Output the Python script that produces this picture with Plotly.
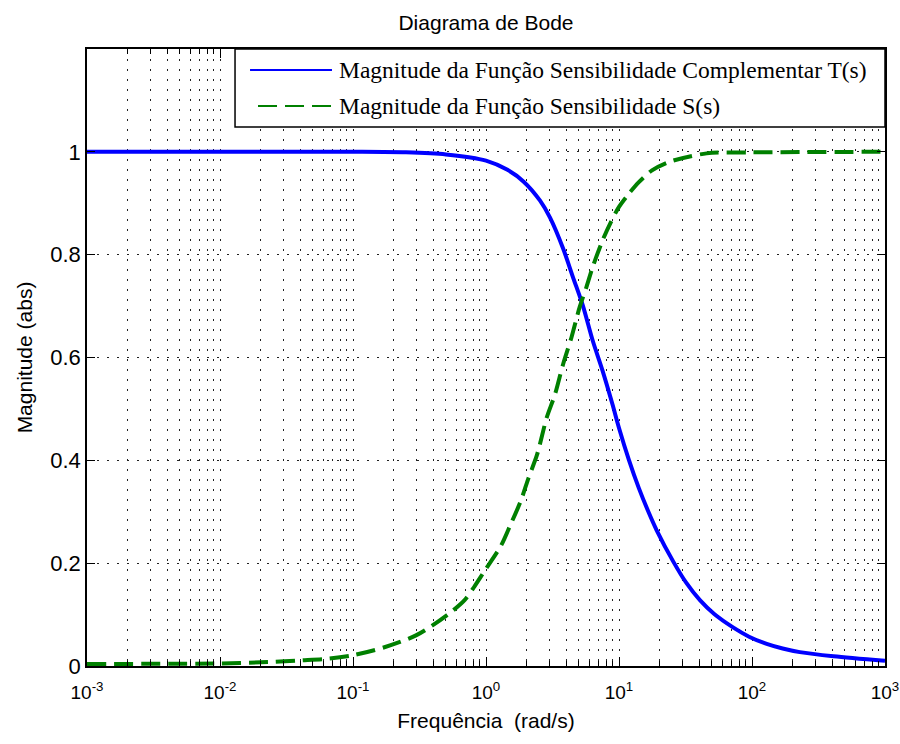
import plotly.graph_objects as go

# Frequency samples (rad/s) and magnitudes of the complementary sensitivity T(s)
freq_t = [0.001, 0.01, 0.1, 0.25, 0.5, 1.0, 1.45, 1.92, 2.55, 3.03, 3.80, 4.51, 5.35,
          6.34, 7.53, 8.93, 10.0, 11.9, 14.1, 16.7, 19.2, 25.6, 32, 40.6, 52, 72, 95,
          129, 170, 229, 410, 1000]
mag_t = [1.0, 1.0, 1.0, 0.999, 0.995, 0.983, 0.965, 0.942, 0.905, 0.872, 0.812, 0.756,
         0.701, 0.633, 0.574, 0.509, 0.463, 0.400, 0.346, 0.299, 0.264, 0.203, 0.162,
         0.128, 0.101, 0.075, 0.057, 0.043, 0.034, 0.027, 0.019, 0.010]

# Frequency samples (rad/s) and magnitudes of the sensitivity S(s)
freq_s = [0.001, 0.01, 0.025, 0.04, 0.063, 0.1, 0.17, 0.3, 0.51, 0.69, 0.82, 0.97, 1.29,
          1.53, 1.82, 2.09, 2.42, 2.86, 3.30, 3.80, 4.39, 5.06, 5.66, 6.34, 7.53, 8.67,
          10.0, 11.9, 14.1, 17.7, 24.2, 45.6, 100, 1000]
mag_s = [0.004, 0.005, 0.008, 0.011, 0.014, 0.021, 0.036, 0.060, 0.099, 0.128, 0.155,
         0.184, 0.233, 0.275, 0.320, 0.366, 0.411, 0.483, 0.528, 0.587, 0.639, 0.698,
         0.735, 0.776, 0.828, 0.863, 0.893, 0.919, 0.941, 0.964, 0.981, 0.997, 0.999, 1.0]

name_t = "Magnitude da Função Sensibilidade Complementar T(s)"
name_s = "Magnitude da Função Sensibilidade S(s)"

# Axis ticks
x_tickvals = [1e-3, 1e-2, 1e-1, 1, 10, 100, 1000]
x_ticktext = ["10<sup>-3</sup>", "10<sup>-2</sup>", "10<sup>-1</sup>", "10<sup>0</sup>",
              "10<sup>1</sup>", "10<sup>2</sup>", "10<sup>3</sup>"]
x_minorvals = [m * 10.0 ** e for e in range(-3, 3) for m in range(2, 10)]
y_tickvals = [0, 0.2, 0.4, 0.6, 0.8, 1.0]
y_ticktext = ["0", "0.2", "0.4", "0.6", "0.8", "1"]

BLUE = "#0000FF"
GREEN = "#008000"
SANS = "Liberation Sans Narrow, Arial Narrow, Liberation Sans, Arial, sans-serif"
SERIF = "Liberation Serif, Times New Roman, serif"
GRID_DASH = "2px,8px"
DASH_S = "19px,8px"

fig = go.Figure()
fig.add_trace(go.Scatter(
    x=freq_t, y=mag_t, mode="lines", name=name_t, showlegend=False,
    line=dict(color=BLUE, width=4, shape="spline", smoothing=0.8),
))
fig.add_trace(go.Scatter(
    x=freq_s, y=mag_s, mode="lines", name=name_s, showlegend=False,
    line=dict(color=GREEN, width=4, dash=DASH_S, shape="spline", smoothing=0.8),
))

# Legend box drawn in axis-domain coordinates
lx0, lx1, ly0, ly1 = 0.1855, 1.0, 0.8736, 1.0
fig.add_shape(type="rect", xref="x domain", yref="y domain",
              x0=lx0, x1=lx1, y0=ly0, y1=ly1,
              line=dict(color="black", width=1.5), fillcolor="white", layer="above")
rows = [(0.966, 0.2043, BLUE, "solid", name_t), (0.9076, 0.2143, GREEN, DASH_S, name_s)]
for ypos, xstart, col, dash, label in rows:
    fig.add_shape(type="line", xref="x domain", yref="y domain",
                  x0=xstart, x1=0.307, y0=ypos, y1=ypos,
                  line=dict(color=col, width=2, dash=dash), layer="above")
    fig.add_annotation(xref="x domain", yref="y domain", x=0.3133, y=ypos,
                       text=label, showarrow=False, xanchor="left", yanchor="middle",
                       font=dict(family=SERIF, size=23.5, color="black"))

axis_common = dict(
    showline=True, linecolor="black", linewidth=1.5, mirror="ticks",
    ticks="inside", tickcolor="black", automargin=False,
    showgrid=True, gridcolor="#222222", gridwidth=1.3, griddash=GRID_DASH,
    zeroline=False,
)

fig.update_xaxes(
    type="log", range=[-3, 3],
    tickmode="array", tickvals=x_tickvals, ticktext=x_ticktext, ticklen=9,
    ticklabeloverflow="allow", ticklabelstandoff=8,
    tickfont=dict(family=SANS, size=19, color="black"),
    minor=dict(tickmode="array", tickvals=x_minorvals, ticks="inside", ticklen=5,
               tickcolor="black", showgrid=True, gridcolor="#222222", gridwidth=1.3,
               griddash=GRID_DASH),
    title=dict(text="Frequência  (rad/s)", font=dict(family=SANS, size=21, color="black"),
               standoff=12),
    **axis_common,
)
fig.update_yaxes(
    range=[0, 1.2],
    tickmode="array", tickvals=y_tickvals, ticktext=y_ticktext, ticklen=8,
    tickfont=dict(family=SANS, size=22, color="black"),
    title=dict(text="Magnitude (abs)", font=dict(family=SANS, size=21, color="black"),
               standoff=12),
    **axis_common,
)

fig.update_layout(
    width=900, height=744,
    margin=dict(l=87, r=15, t=49, b=78, autoexpand=False),
    paper_bgcolor="white", plot_bgcolor="white",
    title=dict(text="Diagrama de Bode", x=0.5, xref="paper", xanchor="center",
               y=0.970, yref="container", yanchor="middle",
               font=dict(family=SANS, size=21, color="black")),
)

fig.write_html("out.html")
